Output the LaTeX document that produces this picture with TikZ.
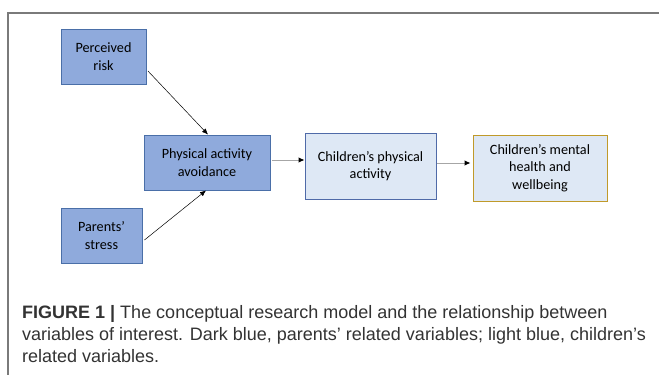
\documentclass[tikz,border=0pt]{standalone}
\usepackage{fontspec}
\setmainfont{Liberation Sans}
\newfontfamily\boxfont{Carlito}
\usetikzlibrary{arrows.meta}
\definecolor{darkfill}{HTML}{8FAADC}
\definecolor{darkedge}{HTML}{4A6FA8}
\definecolor{lightfill}{HTML}{DEE8F5}
\definecolor{lightedge}{HTML}{4F6AA8}
\definecolor{goldedge}{HTML}{C09A2A}
\definecolor{framegray}{HTML}{7A7A7A}
\definecolor{captiongray}{HTML}{333333}
\definecolor{arrowgray}{HTML}{A6A6A6}
\tikzset{
  darkbox/.style={draw=darkedge, line width=0.9pt, fill=darkfill, align=center, inner sep=0pt,
    font=\boxfont\fontsize{14.2}{17.5}\selectfont},
  lightbox/.style={draw=lightedge, line width=0.9pt, fill=lightfill, align=center, inner sep=0pt,
    font=\boxfont\fontsize{14.2}{17.5}\selectfont},
  goldbox/.style={draw=goldedge, line width=0.9pt, fill=lightfill, align=center, inner sep=0pt,
    font=\boxfont\fontsize{14.2}{17.5}\selectfont},
  thinarrow/.style={draw=black, line width=0.5pt, -{Latex[length=6pt,width=5pt]}},
  grayarrow/.style={draw=arrowgray, line width=1pt, -{Latex[length=6pt,width=5.5pt,color=black]}},
  captionline/.style={anchor=base west, inner sep=0pt, text=captiongray, font=\fontsize{18}{22}\selectfont},
  frameline/.style={draw=framegray, line width=1.2pt}
}
\begin{document}
\begin{tikzpicture}[x=1pt,y=1pt]
\useasboundingbox (0,0) rectangle (659,-375);
\fill[white] (0,0) rectangle (659,-375);
\coordinate (fl) at (8,-375);
\coordinate (ftl) at (8,-13);
\coordinate (ftr) at (659,-13);
\draw[frameline] (fl) -- (ftl) -- (ftr);

\node[darkbox, minimum width=85pt, minimum height=55pt] (pr) at (103.5,-56.5) {Perceived\\risk};
\node[darkbox, minimum width=81pt, minimum height=55pt] (ps) at (101.5,-235.5) {Parents’\\stress};
\node[darkbox, minimum width=126pt, minimum height=55pt] (paa) at (207,-162.5) {Physical activity\\avoidance};
\node[lightbox, minimum width=131pt, minimum height=66pt] (cpa) at (370.5,-166) {Children’s physical\\activity};
\node[goldbox, minimum width=134pt, minimum height=66pt] (cmh) at (540,-168) {Children’s mental\\health and\\wellbeing};

\draw[thinarrow] ([xshift=1.5pt,yshift=-14.5pt]pr.east) -- ([xshift=1pt]paa.north);
\draw[thinarrow] ([xshift=2pt,yshift=-4.5pt]ps.east) -- ([xshift=-1pt]paa.south);
\draw[grayarrow] ([xshift=2pt,yshift=2.5pt]paa.east) -- ([yshift=6pt]cpa.west);
\draw[grayarrow] ([xshift=1pt,yshift=3pt]cpa.east) -- ([xshift=-2pt,yshift=5pt]cmh.west);

\node[captionline] (c1) at (22,-318) {\textbf{FIGURE 1 |} The conceptual research model and the relationship between};
\node[captionline] (c2) at (22,-340) {variables of interest. Dark blue, parents’ related variables; light blue, children’s};
\node[captionline] (c3) at (22,-362) {related variables.};
\end{tikzpicture}
\end{document}
